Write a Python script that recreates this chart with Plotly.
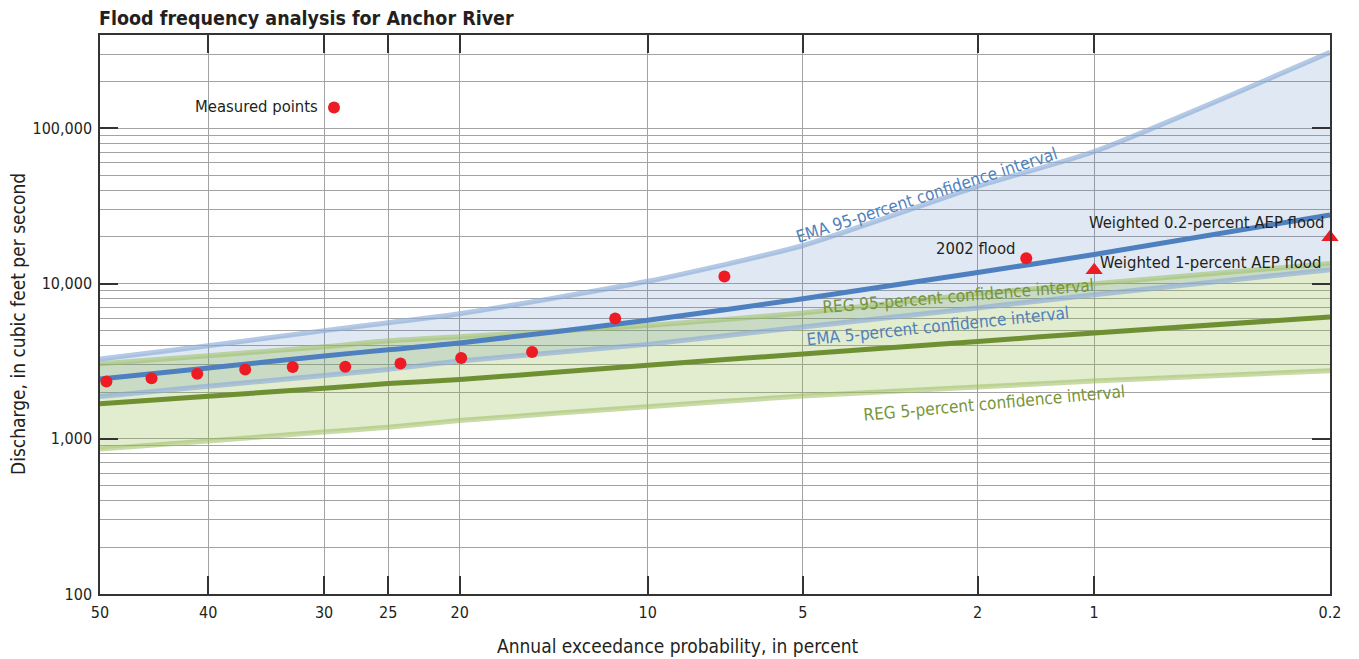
import math
from statistics import NormalDist

import plotly.graph_objects as go

# ---------------------------------------------------------------------------
# Frequency curves, tabulated at standard annual exceedance probabilities (%)
# ---------------------------------------------------------------------------
CURVE_AEP = [50, 40, 30, 25, 20, 10, 5, 2, 1, 0.2]

EMA_EST = [2430, 2860, 3420, 3750, 4140, 5800, 8000, 11800, 15400, 27700]
EMA_UPPER = [3270, 3980, 4980, 5600, 6400, 10350, 17600, 42400, 71000, 309000]
EMA_LOWER = [1875, 2180, 2560, 2800, 3170, 4060, 5260, 6970, 8490, 12300]

REG_EST = [1680, 1880, 2120, 2270, 2410, 2980, 3520, 4240, 4810, 6100]
REG_UPPER = [3040, 3430, 3920, 4280, 4550, 5370, 6470, 8620, 10000, 13460]
REG_LOWER = [858, 969, 1106, 1188, 1310, 1611, 1886, 2156, 2357, 2747]

# Annual peak discharges with their plotting positions
MEASURED_AEP = [49.4, 45.2, 41.0, 36.7, 32.6, 28.3, 24.1, 19.9, 15.6, 11.4, 7.2]
MEASURED_Q = [2340, 2460, 2630, 2800, 2900, 2910, 3060, 3320, 3630, 5950, 11100]

FLOOD_2002_AEP = 1.51
FLOOD_2002_Q = 14560

WEIGHTED_AEP = [1, 0.2]
WEIGHTED_Q = [12200, 19900]

# Axis ticks
X_TICK_AEP = [50, 40, 30, 25, 20, 10, 5, 2, 1, 0.2]
X_TICK_TEXT = ["50", "40", "30", "25", "20", "10", "5", "2", "1", "0.2"]
Y_TICK_VALS = [100, 1000, 10000, 100000]
Y_TICK_TEXT = ["100", "1,000", "10,000", "100,000"]
Y_TOP = 400000

# ---------------------------------------------------------------------------
# Styling
# ---------------------------------------------------------------------------
FONT = "'Liberation Sans Narrow', 'DejaVu Sans Condensed', 'Arial Narrow', 'Roboto Condensed', sans-serif"
INK = "#231f20"
RED = "#ed1c24"
EMA_LINE = "#4e80c0"
EMA_CI = "rgba(140,172,215,0.65)"
EMA_FILL = "rgba(79,129,189,0.18)"
EMA_TEXT = "#4f81bd"
REG_LINE = "#6e9032"
REG_CI = "rgba(155,190,95,0.55)"
REG_FILL = "rgba(140,180,60,0.25)"
REG_TEXT = "#77953a"
GRID = "#a3a3a3"
FRAME = "#333333"

_nd = NormalDist()


def zscore(aep_percent):
    """Normal-probability position of an exceedance probability in percent."""
    return _nd.inv_cdf(1.0 - aep_percent / 100.0)


def zs(values):
    return [zscore(v) for v in values]


fig = go.Figure()

# Confidence bands (fills)
fig.add_trace(go.Scatter(x=zs(CURVE_AEP), y=EMA_LOWER, mode="lines",
                         line=dict(width=0, shape="spline", smoothing=0.6),
                         hoverinfo="skip"))
fig.add_trace(go.Scatter(x=zs(CURVE_AEP), y=EMA_UPPER, mode="lines",
                         line=dict(width=0, shape="spline", smoothing=0.6),
                         fill="tonexty", fillcolor=EMA_FILL, hoverinfo="skip"))
fig.add_trace(go.Scatter(x=zs(CURVE_AEP), y=REG_LOWER, mode="lines",
                         line=dict(width=0, shape="spline", smoothing=0.6),
                         hoverinfo="skip"))
fig.add_trace(go.Scatter(x=zs(CURVE_AEP), y=REG_UPPER, mode="lines",
                         line=dict(width=0, shape="spline", smoothing=0.6),
                         fill="tonexty", fillcolor=REG_FILL, hoverinfo="skip"))

# Confidence limit lines
for series, color in [(REG_UPPER, REG_CI), (REG_LOWER, REG_CI),
                      (EMA_UPPER, EMA_CI), (EMA_LOWER, EMA_CI)]:
    fig.add_trace(go.Scatter(x=zs(CURVE_AEP), y=series, mode="lines",
                             line=dict(color=color, width=5, shape="spline", smoothing=0.6)))

# Fitted frequency curves
fig.add_trace(go.Scatter(x=zs(CURVE_AEP), y=REG_EST, mode="lines",
                         line=dict(color=REG_LINE, width=5, shape="spline", smoothing=0.6)))
fig.add_trace(go.Scatter(x=zs(CURVE_AEP), y=EMA_EST, mode="lines",
                         line=dict(color=EMA_LINE, width=5, shape="spline", smoothing=0.6)))

# Observed peaks
fig.add_trace(go.Scatter(x=zs(MEASURED_AEP), y=MEASURED_Q, mode="markers",
                         marker=dict(color=RED, size=12, line=dict(width=0))))
fig.add_trace(go.Scatter(x=[zscore(FLOOD_2002_AEP)], y=[FLOOD_2002_Q], mode="markers",
                         marker=dict(color=RED, size=12, line=dict(width=0))))

# Weighted estimates
fig.add_trace(go.Scatter(x=zs(WEIGHTED_AEP), y=WEIGHTED_Q, mode="markers",
                         marker=dict(color=RED, size=15, symbol="triangle-up", line=dict(width=0)),
                         cliponaxis=False))

# Key for the measured points
KEY_AEP, KEY_Q = 29.2, 136600
fig.add_trace(go.Scatter(x=[zscore(KEY_AEP)], y=[KEY_Q], mode="markers",
                         marker=dict(color=RED, size=12, line=dict(width=0))))

annotations = []


def note(text, aep, q, color=INK, size=16.5, angle=0, xanchor="center", xshift=0, yshift=0):
    annotations.append(dict(
        text=text, x=zscore(aep), y=math.log10(q), xref="x", yref="y",
        showarrow=False, textangle=angle, xanchor=xanchor, yanchor="middle",
        xshift=xshift, yshift=yshift, font=dict(family=FONT, size=size, color=color)))


note("Measured points", KEY_AEP, KEY_Q, xanchor="right", xshift=-14, yshift=1)
note("2002 flood", FLOOD_2002_AEP, FLOOD_2002_Q, xanchor="right", xshift=-9, yshift=10)
note("Weighted 0.2-percent AEP flood", WEIGHTED_AEP[1], WEIGHTED_Q[1], xanchor="right", xshift=-3, yshift=15)
note("Weighted 1-percent AEP flood", WEIGHTED_AEP[0], WEIGHTED_Q[0], xanchor="left", xshift=4, yshift=8)

# Confidence-interval labels laid along their curves
note("EMA 95-percent confidence interval", 2.65, 37000, color=EMA_TEXT, size=17, angle=-18)
note("REG 95-percent confidence interval", 2.24, 8310, color=REG_TEXT, size=17, angle=-4.7)
note("EMA 5-percent confidence interval", 2.50, 5300, color=EMA_TEXT, size=17, angle=-5.9)
note("REG 5-percent confidence interval", 1.82, 1694, color=REG_TEXT, size=17, angle=-5.2)

# Axis titles
annotations.append(dict(text="Annual exceedance probability, in percent", xref="paper", yref="paper",
                        x=(678 - 100) / 1230, y=-52 / 559, showarrow=False,
                        xanchor="center", yanchor="middle",
                        font=dict(family=FONT, size=19, color=INK)))
annotations.append(dict(text="Discharge, in cubic feet per second", xref="paper", yref="paper",
                        x=-82 / 1230, y=(594 - 324) / 559, showarrow=False, textangle=-90,
                        xanchor="center", yanchor="middle",
                        font=dict(family=FONT, size=19, color=INK)))

minor_vals = [m * 10 ** e for e in range(2, 6) for m in range(2, 10) if m * 10 ** e < Y_TOP]

fig.update_layout(
    width=1359, height=659, autosize=False,
    margin=dict(l=100, r=29, t=35, b=65),
    paper_bgcolor="white", plot_bgcolor="white",
    showlegend=False,
    font=dict(family=FONT, color=INK),
    title=dict(text="<b>Flood frequency analysis for Anchor River</b>",
               x=99 / 1359, xanchor="left", xref="container", y=1 - 18 / 659, yanchor="middle",
               yref="container",
               font=dict(family=FONT, size=19.5, color=INK)),
    annotations=annotations,
    xaxis=dict(
        range=[zscore(50), zscore(0.2)],
        tickmode="array", tickvals=zs(X_TICK_AEP), ticktext=X_TICK_TEXT,
        ticks="inside", ticklen=18, tickwidth=1.5, tickcolor=FRAME,
        showgrid=True, gridcolor=GRID, gridwidth=1,
        showline=True, linecolor=FRAME, linewidth=1.5, mirror="allticks",
        zeroline=False, tickfont=dict(family=FONT, size=16, color=INK),
        ticklabelstandoff=3,
    ),
    yaxis=dict(
        type="log", range=[2, math.log10(Y_TOP)],
        tickmode="array", tickvals=Y_TICK_VALS, ticktext=Y_TICK_TEXT,
        ticks="inside", ticklen=18, tickwidth=1.5, tickcolor=FRAME,
        showgrid=True, gridcolor=GRID, gridwidth=1.2,
        minor=dict(tickmode="array", tickvals=minor_vals, showgrid=True,
                   gridcolor=GRID, gridwidth=1.2, ticks=""),
        showline=True, linecolor=FRAME, linewidth=1.5, mirror="allticks",
        zeroline=False, tickfont=dict(family=FONT, size=16, color=INK),
        ticklabelstandoff=3,
    ),
)

fig.write_html("out.html")
